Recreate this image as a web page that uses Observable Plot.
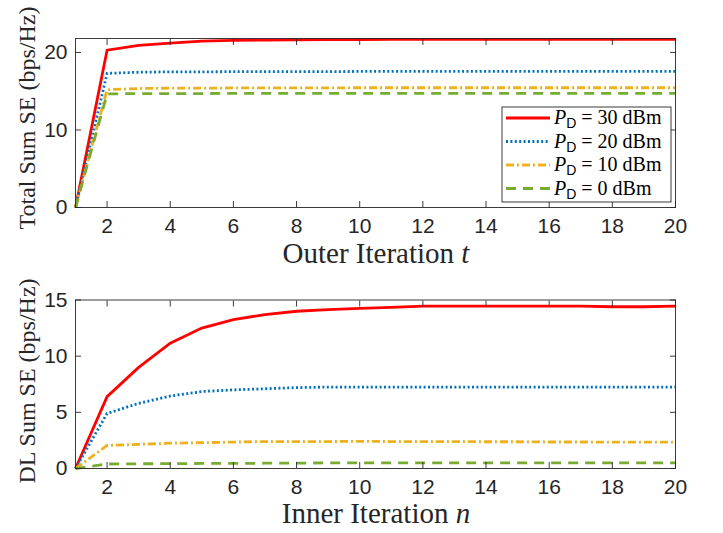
<!DOCTYPE html>
<html><head><meta charset="utf-8">
<script src="https://cdn.jsdelivr.net/npm/d3@7"></script>
<script src="https://cdn.jsdelivr.net/npm/@observablehq/plot@0.6"></script>
<style>
body{margin:0;background:#fff;}
#wrap{position:relative;width:723px;height:533px;background:#fff;}
#wrap svg{position:absolute;left:0;}
</style>
</head><body><div id="wrap"></div>
<script>
// ---------- data ----------
const iterations = [1,2,3,4,5,6,7,8,9,10,11,12,13,14,15,16,17,18,19,20];
const xTicks = [2,4,6,8,10,12,14,16,18,20];

const seriesNames = ["30 dBm","20 dBm","10 dBm","0 dBm"];
const seriesColors = ["#FF0000","#0072BD","#EDB120","#77AC30"];
const seriesDash = [null,"2,2.4","8,3,2,3","10,7"];

// Outer iteration t : Total Sum SE (bps/Hz)
const outer30 = [0,20.3,20.9,21.2,21.45,21.55,21.6,21.62,21.65,21.67,21.68,21.68,21.7,21.7,21.7,21.7,21.7,21.7,21.7,21.7];
const outer20 = [0,17.3,17.45,17.5,17.5,17.52,17.52,17.53,17.53,17.55,17.55,17.55,17.55,17.55,17.55,17.55,17.55,17.55,17.55,17.55];
const outer10 = [0,15.2,15.35,15.4,15.4,15.42,15.42,15.43,15.43,15.45,15.45,15.45,15.45,15.45,15.45,15.45,15.45,15.45,15.45,15.45];
const outer0  = [0,14.65,14.7,14.7,14.7,14.72,14.72,14.72,14.72,14.72,14.72,14.72,14.72,14.72,14.72,14.72,14.72,14.72,14.72,14.72];
const outerYTicks = [0,10,20];

// Inner iteration n : DL Sum SE (bps/Hz)
const inner30 = [0,6.4,9.0,11.15,12.5,13.25,13.7,14.0,14.15,14.25,14.35,14.45,14.45,14.45,14.45,14.45,14.45,14.4,14.4,14.45];
const inner20 = [0,4.9,5.8,6.45,6.85,7.0,7.1,7.2,7.25,7.25,7.25,7.25,7.25,7.25,7.25,7.25,7.25,7.25,7.25,7.25];
const inner10 = [0,2.05,2.15,2.25,2.3,2.35,2.4,2.4,2.4,2.42,2.4,2.4,2.4,2.38,2.38,2.36,2.36,2.35,2.35,2.35];
const inner0  = [0,0.4,0.42,0.43,0.45,0.45,0.47,0.48,0.5,0.5,0.5,0.5,0.5,0.5,0.5,0.5,0.5,0.5,0.5,0.5];
const innerYTicks = [0,5,10,15];

// ---------- helpers ----------
const AX = "#262626";
function toRows(arrays){
  const rows = [];
  arrays.forEach((arr, s) => arr.forEach((v, i) => rows.push({s, x: iterations[i], y: v})));
  return rows;
}

function makePlot({height, mt, mb, yDomain, yTicks, arrays}){
  const rows = toRows(arrays);
  const lineMarks = arrays.map((_, s) => Plot.line(rows.filter(d => d.s === s), {
    x: "x", y: "y", stroke: seriesColors[s], strokeWidth: 2.8,
    strokeDasharray: seriesDash[s], strokeLinecap: "butt", strokeLinejoin: "miter", strokeMiterlimit: 2
  }));
  return Plot.plot({
    width: 723, height,
    marginLeft: 75, marginRight: 48, marginTop: mt, marginBottom: mb,
    style: {fontFamily: "'Liberation Sans', Arial, sans-serif", fontSize: "21px", color: AX, background: "white"},
    x: {domain: [1, 20], ticks: xTicks},
    y: {domain: yDomain, ticks: yTicks},
    marks: [
      ...lineMarks,
      Plot.frame({stroke: AX, strokeWidth: 0.9}),
      Plot.axisX(xTicks, {anchor: "bottom", tickSize: 0, tickPadding: 11, fontSize: 21, fill: AX, label: null}),
      Plot.axisX(xTicks, {anchor: "bottom", tickSize: -6, tickFormat: () => "", stroke: AX, strokeWidth: 0.9, label: null}),
      Plot.axisX(xTicks, {anchor: "top", tickSize: -6, tickFormat: () => "", stroke: AX, strokeWidth: 0.9, label: null}),
      Plot.axisY(yTicks, {anchor: "left", tickSize: 0, tickPadding: 8, fontSize: 21, fill: AX, label: null}),
      Plot.axisY(yTicks, {anchor: "left", tickSize: -6, tickFormat: () => "", stroke: AX, strokeWidth: 0.9, label: null}),
      Plot.axisY(yTicks, {anchor: "right", tickSize: -6, tickFormat: () => "", stroke: AX, strokeWidth: 0.9, label: null})
    ]
  });
}

function addLabels(svg, {xLabel, xVar, xBaseline, yLabel, yCenter}){
  const s = d3.select(svg);
  const xt = s.append("text")
    .attr("x", 376).attr("y", xBaseline)
    .attr("text-anchor", "middle")
    .attr("font-family", "'Liberation Serif','Times New Roman',serif")
    .attr("font-size", 29).attr("fill", AX);
  xt.append("tspan").text(xLabel + " ");
  xt.append("tspan").attr("font-style", "italic").text(xVar);
  s.append("text")
    .attr("transform", `translate(35,${yCenter}) rotate(-90)`)
    .attr("text-anchor", "middle")
    .attr("font-family", "'Liberation Serif','Times New Roman',serif")
    .attr("font-size", 24).attr("fill", AX)
    .text(yLabel);
}

function addLegend(svg){
  const s = d3.select(svg);
  const g = s.append("g");
  g.append("rect").attr("x", 502).attr("y", 107).attr("width", 169).attr("height", 95)
    .attr("fill", "white").attr("stroke", AX).attr("stroke-width", 0.9);
  const rowY = [118, 141.5, 165, 188.5];
  seriesNames.forEach((name, i) => {
    g.append("line").attr("x1", 506).attr("x2", 550).attr("y1", rowY[i]).attr("y2", rowY[i])
      .attr("stroke", seriesColors[i]).attr("stroke-width", 2.8)
      .attr("stroke-dasharray", seriesDash[i]);
    const t = g.append("text").attr("x", 554).attr("y", rowY[i] + 6)
      .attr("text-anchor", "start")
      .attr("font-family", "'Liberation Serif','Times New Roman',serif")
      .attr("font-size", 20).attr("fill", "#000");
    t.append("tspan").attr("font-style", "italic").text("P");
    t.append("tspan").attr("font-family", "'Liberation Sans',Arial,sans-serif")
      .attr("font-size", 14).attr("dy", 4).text("D");
    t.append("tspan").attr("dy", -4).text(" = " + name);
  });
}

// ---------- build ----------
const wrap = document.getElementById("wrap");

const topChart = makePlot({height: 270, mt: 38, mb: 63, yDomain: [0, 21.8], yTicks: outerYTicks,
  arrays: [outer30, outer20, outer10, outer0]});
topChart.style.top = "0px";
addLabels(topChart, {xLabel: "Outer Iteration", xVar: "t", xBaseline: 263, yLabel: "Total Sum SE (bps/Hz)", yCenter: 118});
addLegend(topChart);
wrap.appendChild(topChart);

const bottomChart = makePlot({height: 263, mt: 29.5, mb: 65, yDomain: [0, 15], yTicks: innerYTicks,
  arrays: [inner30, inner20, inner10, inner0]});
bottomChart.style.top = "270px";
addLabels(bottomChart, {xLabel: "Inner Iteration", xVar: "n", xBaseline: 253, yLabel: "DL Sum SE (bps/Hz)", yCenter: 111});
wrap.appendChild(bottomChart);
</script>
</body></html>
